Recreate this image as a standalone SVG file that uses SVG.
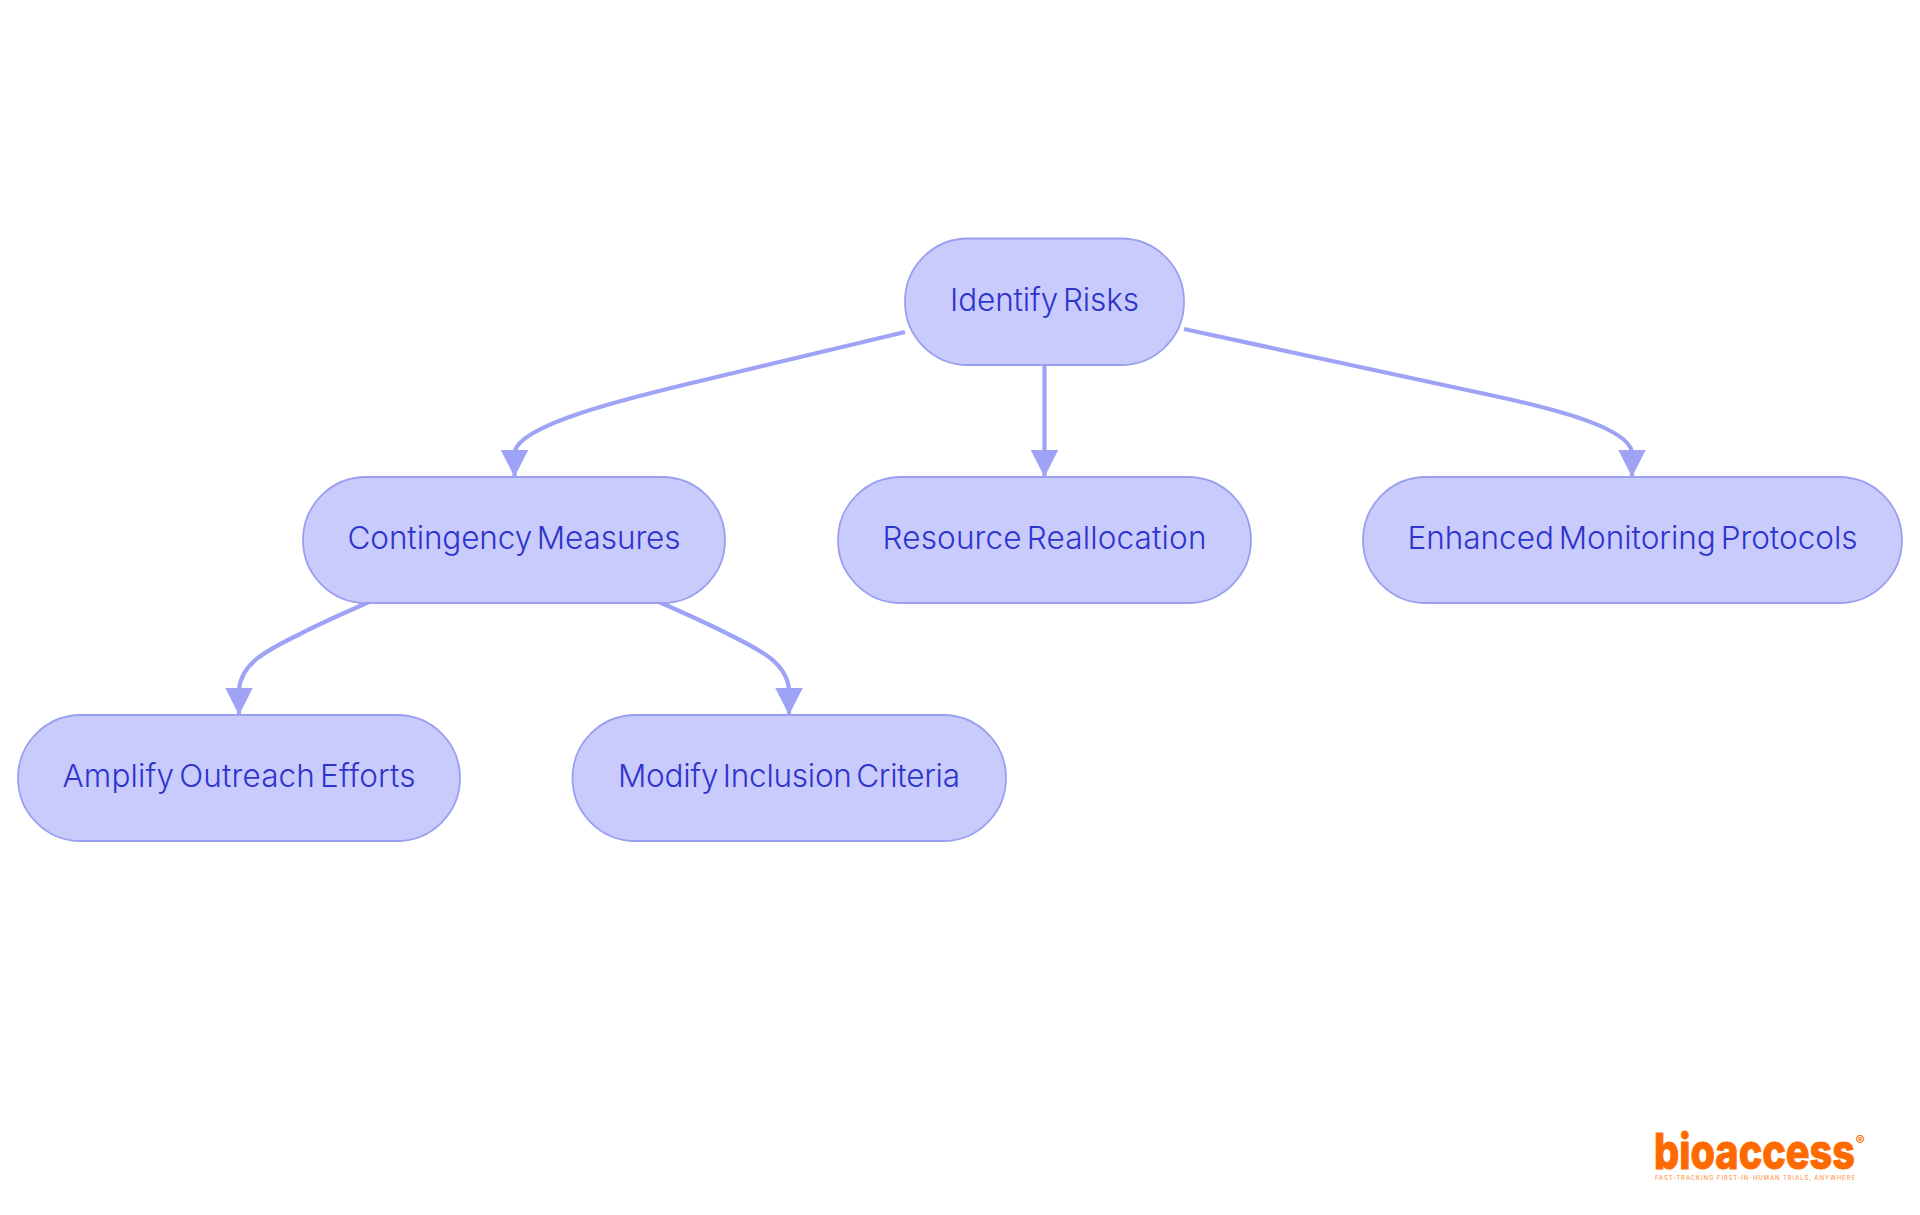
<svg xmlns="http://www.w3.org/2000/svg" width="1920" height="1215" viewBox="0 0 1920 1215">
<defs>
<marker id="arrow" markerUnits="userSpaceOnUse" markerWidth="28" markerHeight="28" refX="27" refY="13.750" orient="auto"><path d="M0 0L27 13.750L0 27.500Z" fill="#9fa3f5"/></marker>
</defs>
<style>
.n{fill:#c9cbfd;stroke:#9a9ff0;stroke-width:1.800}
.t{font-family:"Inter","Noto Sans",sans-serif;font-size:31.500px;font-weight:300;fill:#2e34cc;text-anchor:middle;word-spacing:-4px}
.c{fill:none;stroke:#9fa3f5;stroke-width:4.200;marker-end:url(#arrow)}
</style>
<rect width="1920" height="1215" fill="#fff"/>
<g id="connectors">
<path class="c" d="M905 332L700 381C620 400 520 425 514.500 452L514.500 477"/>
<path class="c" d="M1044.500 365V477"/>
<path class="c" d="M1184 329L1490 395C1570 412 1628 430 1632 452L1632 477"/>
<path class="c" d="M369 602C335 617 315 626 300 634C270 649 241 662 239 690L239 715"/>
<path class="c" d="M659 602C693 617 713 626 728 634C758 649 787 662 789 690L789 715"/>
</g>
<g id="n1"><rect class="n" x="905" y="238.500" width="279" height="126.500" rx="63"/><text class="t" x="1044.500" y="311" textLength="189">Identify Risks</text></g>
<g id="n2"><rect class="n" x="303" y="477" width="422" height="126" rx="63"/><text class="t" x="514" y="549" textLength="333">Contingency Measures</text></g>
<g id="n3"><rect class="n" x="838" y="477" width="413" height="126" rx="63"/><text class="t" x="1044.500" y="549" textLength="324">Resource Reallocation</text></g>
<g id="n4"><rect class="n" x="1363" y="477" width="539" height="126" rx="63"/><text class="t" x="1632.500" y="549" textLength="450">Enhanced Monitoring Protocols</text></g>
<g id="n5"><rect class="n" x="18" y="715" width="442" height="126" rx="63"/><text class="t" x="239" y="787" textLength="353">Amplify Outreach Efforts</text></g>
<g id="n6"><rect class="n" x="572.500" y="715" width="433.500" height="126" rx="63"/><text class="t" x="789" y="787" textLength="342">Modify Inclusion Criteria</text></g>
<g id="logo">
<text x="1654" y="1169" font-family="Inter,'Noto Sans',sans-serif" font-size="49" font-weight="800" fill="#ff6a00" stroke="#ff6a00" stroke-width="1" textLength="201" lengthAdjust="spacingAndGlyphs">bioaccess</text>
<text x="1855.500" y="1146" font-family="Inter,sans-serif" font-size="14" font-weight="600" fill="#ff6a00">®</text>
<text x="1655" y="1179.500" font-family="Inter,sans-serif" font-size="6" font-weight="500" fill="#ff9a55" textLength="200">FAST-TRACKING FIRST-IN-HUMAN TRIALS, ANYWHERE</text>
</g>
</svg>
